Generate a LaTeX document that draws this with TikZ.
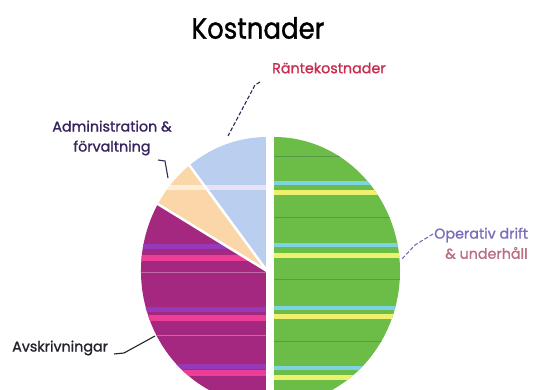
\documentclass[tikz,border=0pt]{standalone}
\usepackage{fontspec}
\setmainfont{Poppins}
\newfontfamily\heavyfont{Poppins}[FakeBold=1.2]
\usetikzlibrary{calc}
\definecolor{greenc}{RGB}{108,188,72}
\definecolor{cyanc}{RGB}{125,210,228}
\definecolor{yellowc}{RGB}{238,240,112}
\definecolor{darkg}{RGB}{80,140,70}
\definecolor{magc}{RGB}{165,40,128}
\definecolor{pinkc}{RGB}{236,62,150}
\definecolor{purpc}{RGB}{150,58,185}
\definecolor{bluec}{RGB}{186,206,240}
\definecolor{peachc}{RGB}{250,214,168}
\definecolor{bandc}{RGB}{232,226,246}
\definecolor{ranteC}{RGB}{200,45,80}
\definecolor{adminC}{RGB}{55,35,95}
\definecolor{operC}{RGB}{120,110,185}
\definecolor{underC}{RGB}{185,110,130}
\definecolor{avskC}{RGB}{35,35,45}
\definecolor{leadC}{RGB}{50,40,90}
\tikzset{
  lbl/.style={inner sep=0pt, font=\heavyfont\fontsize{14.3}{20}\selectfont},
  gap/.style={draw=white, line width=2.5pt, line join=round},
  leader/.style={line width=1.1pt, draw=leadC},
}
\begin{document}
\begin{tikzpicture}[x=1pt,y=1pt]
\useasboundingbox (0,0) rectangle (535,390);
\fill[white] (0,0) rectangle (535,390);
\coordinate (R) at (274,119);
\coordinate (L) at (267,119);
% green slice
\begin{scope}
\clip (R) -- ++(-90:126 and 134) arc[start angle=-90,end angle=90,x radius=126,y radius=134] -- cycle;
\fill[greenc] (260,-20) rectangle (410,260);
\foreach \y in {233,172,110,48} \fill[darkg!70!greenc] (260,\y-0.5) rectangle (410,\y+0.5);
\foreach \y in {207,145,82,22} \fill[cyanc] (260,\y-2) rectangle (410,\y+2);
\foreach \y in {197,134,73,12} \fill[yellowc] (260,\y-2.5) rectangle (410,\y+2.5);
\end{scope}
% magenta slice
\begin{scope}
\clip (L) -- ++(150:126 and 134) arc[start angle=150,end angle=270,x radius=126,y radius=134] -- cycle;
\fill[magc] (130,-20) rectangle (280,200);
\foreach \y in {143,80,23} \fill[purpc] (130,\y-2.5) rectangle (280,\y+2.5);
\foreach \y in {132,72,17} \fill[pinkc] (130,\y-3) rectangle (280,\y+3);
\foreach \y in {118,55} \fill[magc!70!white] (130,\y-0.4) rectangle (280,\y+0.4);
\end{scope}
% blue slice
\begin{scope}
\clip (L) -- ++(90:126 and 134) arc[start angle=90,end angle=128,x radius=126,y radius=134] -- cycle;
\fill[bluec] (130,100) rectangle (280,260);
\fill[bandc] (130,200) rectangle (280,205);
\end{scope}
% peach slice
\begin{scope}
\clip (L) -- ++(128:126 and 134) arc[start angle=128,end angle=150,x radius=126,y radius=134] -- cycle;
\fill[peachc] (130,100) rectangle (280,260);
\fill[peachc!40!white] (130,200) rectangle (280,205);
\end{scope}
% gaps between left slices
\draw[gap] (L) -- ++(128:127 and 135);
\draw[gap] (L) -- ++(150:127 and 135);
\draw[gap] (L) -- ++(90:127 and 135);
\draw[gap] (L) -- ++(270:127 and 135);
% title
\node[inner sep=0pt, font=\heavyfont\fontsize{26}{30}\selectfont, yscale=1.12] (title) at (258,362) {Kostnader};
% labels
\node[lbl, text=ranteC, anchor=west] (rante) at (272,322) {Räntekostnader};
\node[lbl, text=adminC, align=center] (admin) at (112,252) {Administration \&\\förvaltning};
\node[lbl, text=avskC, anchor=west] (avsk) at (12,42) {Avskrivningar};
\node[lbl, text=operC, anchor=west, font=\heavyfont\fontsize{14.3}{18}\selectfont] (oper) at (434,155) {Operativ drift};
\node[lbl, text=underC, anchor=west] (under) at (445,137) {\& underhåll};
% leader lines
\coordinate (r1) at (260,308); \coordinate (r2) at (255,305); \coordinate (r3) at (228,254);
\draw[leader, dashed, dash pattern=on 4pt off 2pt] (r1) -- (r2) -- (r3);
\coordinate (a1) at (158,230); \coordinate (a2) at (165,229); \coordinate (a3) at (168,212);
\draw[leader] (a1) -- (a2) -- (a3);
\coordinate (v1) at (114,36); \coordinate (v2) at (124,37); \coordinate (v3) at (155,54);
\draw[leader, draw=avskC] (v1) -- (v2) -- (v3);
\coordinate (o1) at (433,156); \coordinate (o2) at (415,145); \coordinate (o3) at (402,131);
\draw[leader, draw=operC, dashed, dash pattern=on 4pt off 2pt] (o1) -- (o2) -- (o3);
\end{tikzpicture}
\end{document}
